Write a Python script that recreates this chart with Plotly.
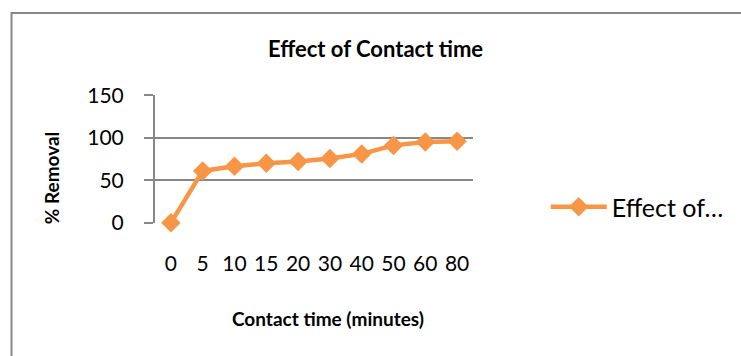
import plotly.graph_objects as go

categories = ["0", "5", "10", "15", "20", "30", "40", "50", "60", "80"]
removal = [0, 61, 66.5, 70, 72, 75.5, 81, 91, 95, 96]
series_name = "Effect of…"
chart_title = "Effect of Contact time"
x_title = "Contact time (minutes)"
y_title = "% Removal"
y_ticks = [0, 50, 100, 150]

W, H = 741, 356
# plot area in page pixels
X0, X1, Y0, Y1 = 155, 483, 95, 223
L, T, R, B = X0, Y0, W - X1, H - Y1
pw, ph = X1 - X0, Y1 - Y0

def px(x):
    return (x - X0) / pw

def py(y):
    return (Y1 - y) / ph

ORANGE = "#F79646"
GRID = "#878787"
FONT = "Lato"

fig = go.Figure()
fig.add_trace(go.Scatter(
    x=categories, y=removal, mode="lines+markers", name=series_name,
    line=dict(color=ORANGE, width=4.5),
    marker=dict(symbol="diamond", size=15, color=ORANGE),
    cliponaxis=False,
))

fig.update_layout(
    width=W, height=H,
    margin=dict(l=L, r=R, t=T, b=B),
    paper_bgcolor="white", plot_bgcolor="white",
    font=dict(family=FONT, color="black", size=21),
    showlegend=True,
    legend=dict(x=px(558), y=py(207), xanchor="left", yanchor="middle",
                font=dict(size=25, family=FONT), itemwidth=56,
                bgcolor="rgba(0,0,0,0)"),
    xaxis=dict(type="category", range=[-0.5, len(categories) - 0.5],
               showgrid=False, zeroline=False,
               showline=False, ticks="", ticklabelstandoff=26,
               tickfont=dict(size=21), fixedrange=True),
    yaxis=dict(range=[-0.2, 150.2], tickvals=y_ticks, showgrid=True,
               gridcolor=GRID, gridwidth=2, zeroline=False,
               showline=True, linecolor=GRID, linewidth=2,
               ticks="outside", ticklen=9, tickcolor=GRID, tickwidth=2,
               tickfont=dict(size=21), ticklabelstandoff=16, fixedrange=True),
)

# outer chart border (runs off the right and bottom edges)
fig.add_shape(type="rect", xref="paper", yref="paper",
              x0=px(7), x1=px(W + 20), y0=py(H + 20), y1=py(13),
              line=dict(color=GRID, width=2), fillcolor="rgba(0,0,0,0)",
              layer="below")

fig.add_annotation(text="<b>" + chart_title + "</b>", xref="paper", yref="paper",
                   x=px(382), y=py(48), showarrow=False,
                   font=dict(size=22, family=FONT), xanchor="center", yanchor="middle")
fig.add_annotation(text="<b>" + x_title + "</b>", xref="paper", yref="paper",
                   x=px(333), y=py(318), showarrow=False,
                   font=dict(size=19, family=FONT), xanchor="center", yanchor="middle")
fig.add_annotation(text="<b>" + y_title + "</b>", xref="paper", yref="paper",
                   x=px(48), y=py(178), showarrow=False, textangle=-90,
                   font=dict(size=19, family=FONT), xanchor="center", yanchor="middle")

fig.write_html("out.html", config={"displayModeBar": False},
               post_script="document.body.style.margin='0px';")
